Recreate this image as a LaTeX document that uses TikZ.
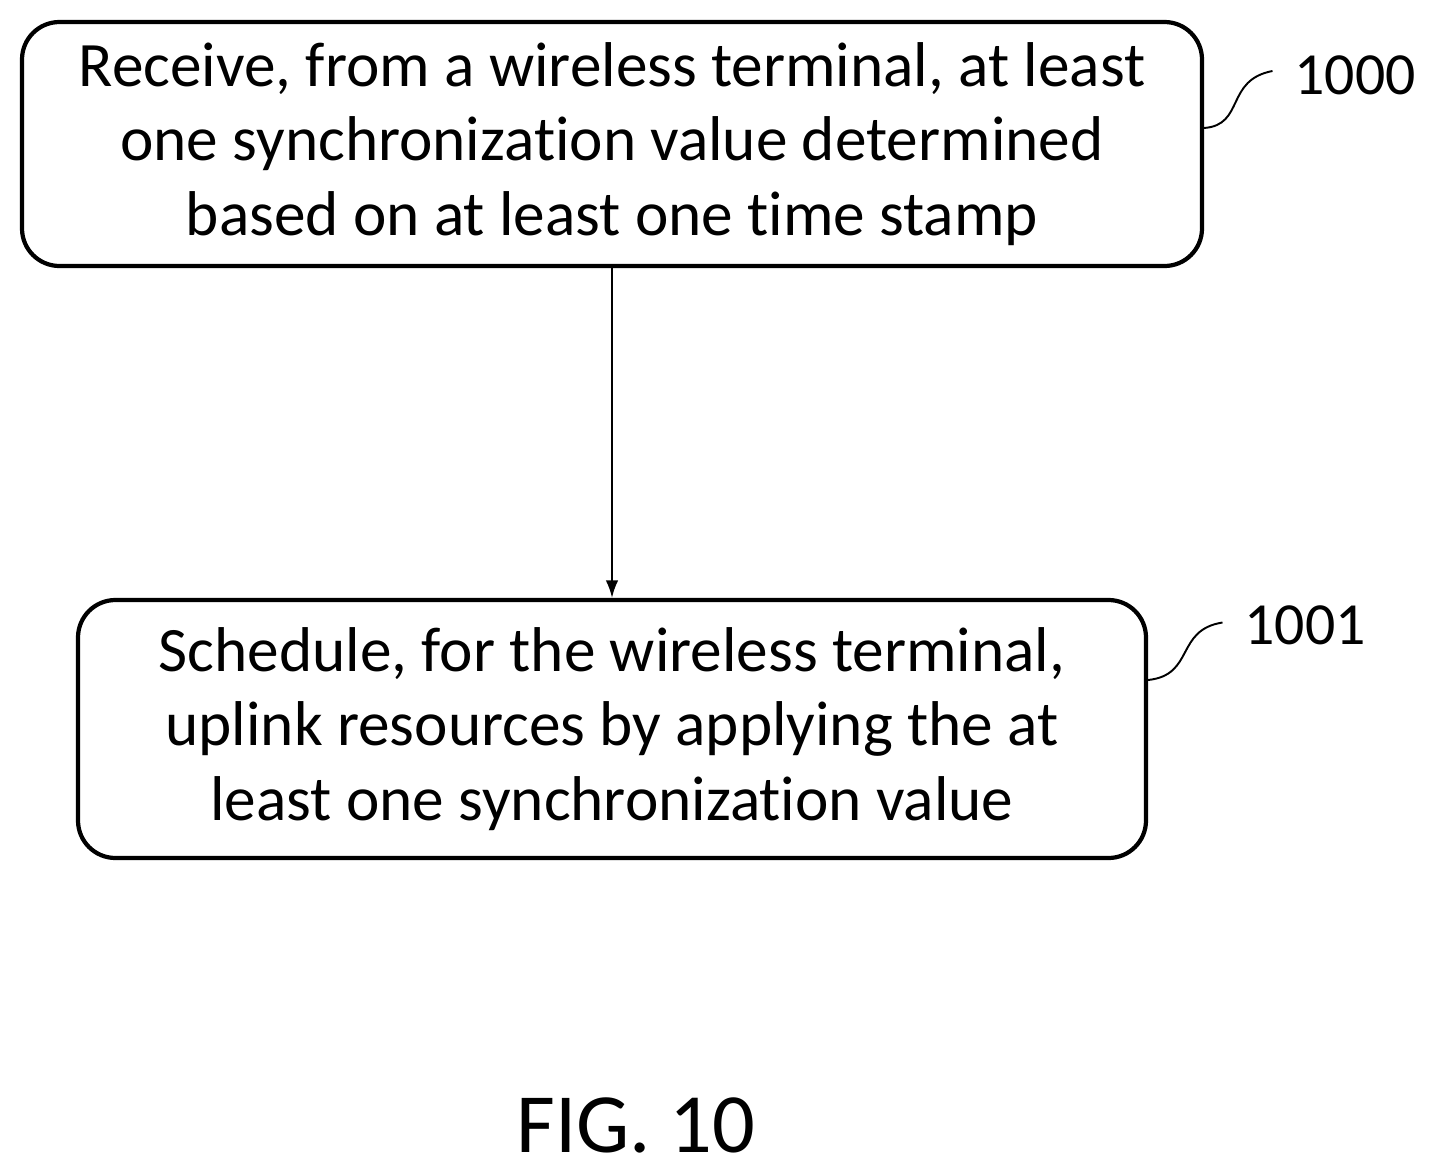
\documentclass[tikz,border=0pt]{standalone}
\usepackage{fontspec}
\setmainfont{Carlito}[Ligatures=NoCommon]
\usetikzlibrary{arrows.meta}

\begin{document}
\begin{tikzpicture}
        \useasboundingbox (0,0) rectangle (28.74,-23.52);
        \tikzset{stepbox/.style={draw, line width=2.4pt, rounded corners=0.75cm, align=center,
                    font=\fontsize{36}{42.5}\selectfont, inner sep=0pt},
                 ref/.style={font=\fontsize{34}{40}\selectfont}}

        \node[stepbox, minimum width=23.6cm, minimum height=4.88cm] (S1) at (12.24,-2.88)
            {\raisebox{-0.15cm}{}Receive, from a wireless terminal, at least\\one synchronization value determined\\based on at least one time stamp};
        \node[stepbox, minimum width=21.36cm, minimum height=5.16cm] (S2) at (12.24,-14.58)
            {Schedule, for the wireless terminal,\\uplink resources by applying the at\\least one synchronization value};

        \draw[line width=1.1pt, -{Latex[length=0.35cm, width=0.25cm]}] (S1) -- (S2);

        \node[ref] (L1) at (27.1,-1.5) {1000};
        \node[ref] (L2) at (26.1,-12.5) {1001};
        \coordinate (C1) at (25.45,-1.42);
        \coordinate (C2) at (24.45,-12.45);

        \draw[line width=1.1pt] (S1.east |- 0,-2.56) .. controls (24.9,-2.5) and (24.5,-1.6) .. (C1);
        \draw[line width=1.1pt] (S2.east |- 0,-13.6) .. controls (23.9,-13.5) and (23.5,-12.6) .. (C2);

        \node[font=\fontsize{48}{50}\selectfont] (F) at (12.72,-22.5) {FIG. 10};
    \end{tikzpicture}
\end{document}
